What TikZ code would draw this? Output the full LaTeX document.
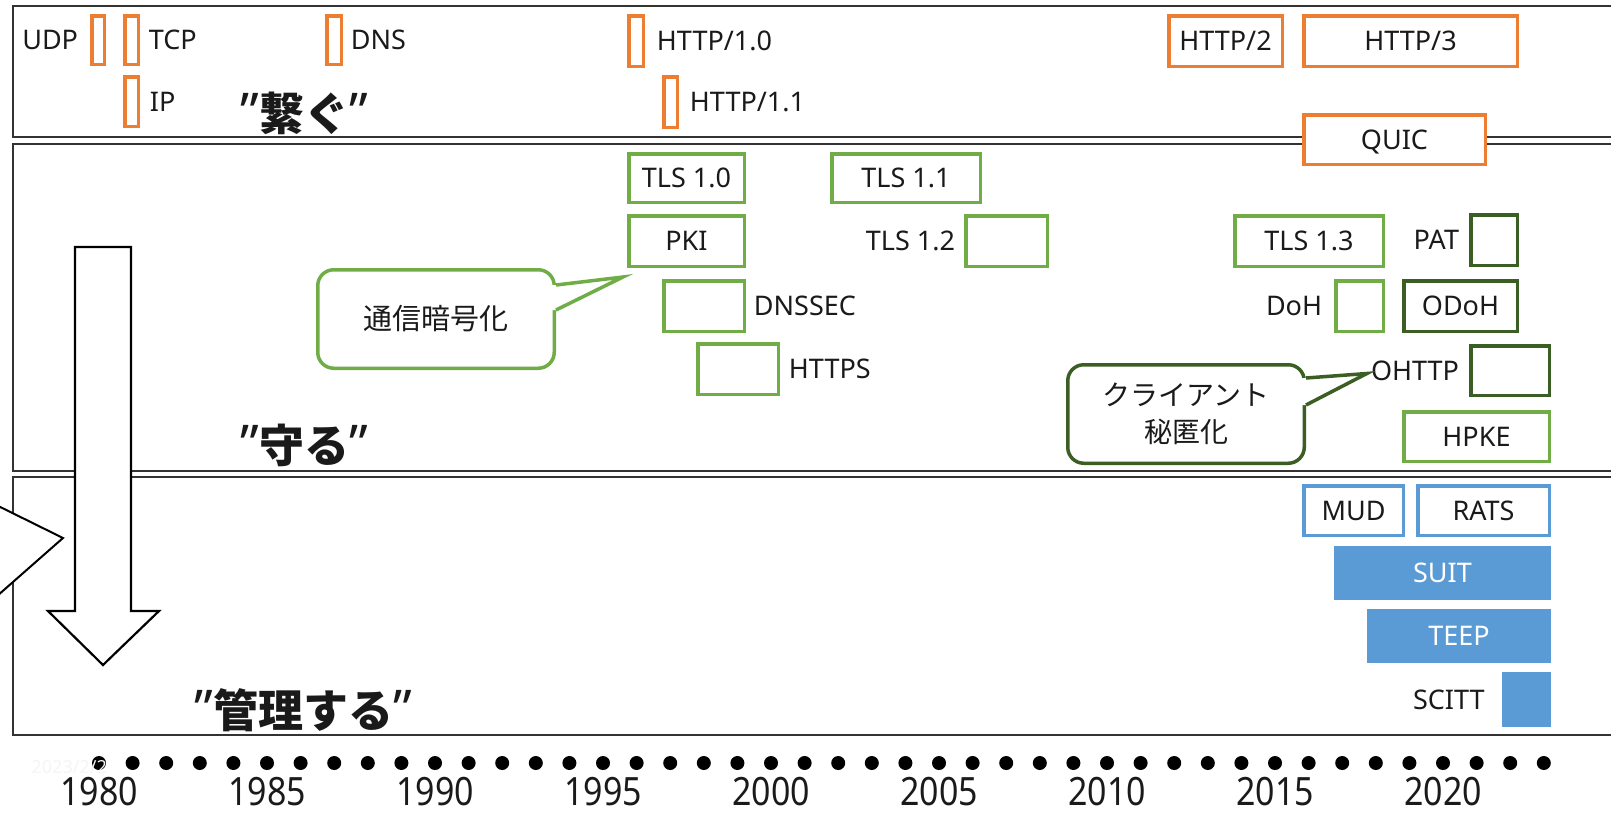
\documentclass[tikz,border=0pt]{standalone}
\usepackage{fontspec}
\setmainfont{Noto Sans}
\newfontfamily\jp{Noto Sans CJK JP}
\newfontfamily\yearfont{Noto Sans}[FakeStretch=0.87]
\usetikzlibrary{calc}
\definecolor{orng}{HTML}{ED7D31}
\definecolor{grn}{HTML}{70AD47}
\definecolor{dgrn}{HTML}{3B5E25}
\definecolor{blu}{HTML}{5B9BD5}
\definecolor{bandline}{HTML}{333333}
\definecolor{txt}{HTML}{1A1A1A}
\begin{document}
\begin{tikzpicture}[x=1pt,y=-1pt,
  lbl/.style={font=\fontsize{27}{30}\selectfont, inner sep=0pt, text=txt, text height=19.3pt, text depth=0pt},
  bx/.style={draw, line width=3.5pt, fill=white, inner sep=0pt, text=txt, font=\fontsize{27}{30}\selectfont, text height=19.3pt, text depth=0pt, minimum height=50.5pt},
  obx/.style={bx, draw=orng},
  gbx/.style={bx, draw=grn},
  dbx/.style={bx, draw=dgrn},
  bbx/.style={bx, draw=blu, minimum height=49.5pt},
  fbx/.style={fill=blu, draw=none, inner sep=0pt, text=white, font=\fontsize{27}{30}\selectfont, text height=19.3pt, text depth=0pt, minimum height=54pt},
  band/.style={draw=bandline, line width=2pt},
  bandlbl/.style={font=\fontsize{45}{50}\selectfont\bfseries, inner sep=0pt, text=txt},
  call/.style={draw, line width=3.5pt, fill=white, rounded corners=16pt, inner sep=0pt, text=txt},
  yearlbl/.style={font=\yearfont\fontsize{39}{40}\selectfont, inner sep=0pt, text=txt, anchor=base},
]
\useasboundingbox (0,0) rectangle (1611,815);
\fill[white] (0,0) rectangle (1611,815);

% bands
\draw[band] (1611,6) -- (13,6) -- (13,137) -- (1611,137);
\draw[band] (1611,144) -- (13,144) -- (13,471) -- (1611,471);
\draw[band] (1611,477) -- (13,477) -- (13,735) -- (1611,735);

% clipped chevron at left edge
\begin{scope}
\clip (0,0) rectangle (1611,815);
\fill[white] (-20,497) -- (63,538) -- (-20,611) -- cycle;
\draw[line width=2pt, line join=miter] (-20,497) -- (63,538) -- (-20,611);
\end{scope}

% big down arrow
\draw[line width=2.2pt, fill=white, line join=miter]
  (75,247) -- (131,247) -- (131,611) -- (159,611) -- (103,665) -- (48,611) -- (75,611) -- cycle;

% band labels
\node[bandlbl] (connect) at (304,113) {{\fontsize{52}{52}\selectfont ”}{\jp 繋ぐ}{\fontsize{52}{52}\selectfont ”}};
\node[bandlbl] (protect) at (304,445) {{\fontsize{52}{52}\selectfont ”}{\jp 守る}{\fontsize{52}{52}\selectfont ”}};
\node[bandlbl] (manage) at (303,710) {{\fontsize{52}{52}\selectfont ”}{\jp 管理する}{\fontsize{52}{52}\selectfont ”}};

% orange (connect)
\node[obx, minimum width=12.5pt, minimum height=48.5pt] (udp) at (98,40) {};
\node[obx, minimum width=13.5pt, minimum height=48.5pt] (tcp) at (131.5,40) {};
\node[obx, minimum width=13.5pt, minimum height=49.5pt] (ip) at (131.5,101.5) {};
\node[obx, minimum width=14.5pt, minimum height=48.5pt] (dns) at (334,40) {};
\node[obx, minimum width=14.5pt] (http10) at (636,41) {};
\node[obx, minimum width=13.5pt] (http11) at (670.5,102) {};
\node[obx, minimum width=113.5pt] (http2) at (1225.5,41) {HTTP/2};
\node[obx, minimum width=213.5pt] (http3) at (1410.5,41) {HTTP/3};
\node[obx, minimum width=181.5pt, minimum height=49.5pt] (quic) at (1394.5,139.5) {QUIC};

\node[lbl, anchor=east] (udpl) at ([xshift=-11.75pt]udp.west) {UDP};
\node[lbl, anchor=west] (tcpl) at ([xshift=8.75pt]tcp.east) {TCP};
\node[lbl, anchor=west] (ipl) at ([xshift=9.75pt]ip.east) {IP};
\node[lbl, anchor=west] (dnsl) at ([xshift=7.75pt]dns.east) {DNS};
\node[lbl, anchor=west] (http10l) at ([xshift=11.75pt]http10.east) {HTTP/1.0};
\node[lbl, anchor=west] (http11l) at ([xshift=10.75pt]http11.east) {HTTP/1.1};

% green (protect)
\node[gbx, minimum width=115.5pt, minimum height=48.5pt] (tls10) at (686.5,178) {TLS 1.0};
\node[gbx, minimum width=148.5pt, minimum height=48.5pt] (tls11) at (906,178) {TLS 1.1};
\node[gbx, minimum width=115.5pt] (pki) at (686.5,241) {PKI};
\node[gbx, minimum width=81.5pt] (tls12) at (1006.5,241) {};
\node[gbx, minimum width=80.5pt] (dnssec) at (704,306) {};
\node[gbx, minimum width=80.5pt] (https) at (738,369) {};
\node[gbx, minimum width=148.5pt] (tls13) at (1309,241) {TLS 1.3};
\node[gbx, minimum width=47.5pt] (doh) at (1359.5,306) {};
\node[gbx, minimum width=145.5pt, minimum height=49.5pt] (hpke) at (1476.5,436.5) {HPKE};
\node[dbx, minimum width=46.5pt] (pat) at (1494,240) {};
\node[dbx, minimum width=113.5pt] (odoh) at (1460.5,306) {ODoH};
\node[dbx, minimum width=78.5pt, minimum height=49.5pt] (ohttp) at (1510,370.5) {};

\node[lbl, anchor=east] (tls12l) at ([xshift=-8.75pt]tls12.west) {TLS 1.2};
\node[lbl, anchor=west] (dnssecl) at ([xshift=7.75pt]dnssec.east) {DNSSEC};
\node[lbl, anchor=west] (httpsl) at ([xshift=8.75pt]https.east) {HTTPS};
\node[lbl, anchor=east] (patl) at ([xshift=-9.75pt]pat.west) {PAT};
\node[lbl, anchor=east] (dohl) at ([xshift=-11.75pt]doh.west) {DoH};
\node[lbl, anchor=east] (ohttpl) at ([xshift=-9.75pt]ohttp.west) {OHTTP};

% blue (manage)
\node[bbx, minimum width=99.5pt] (mud) at (1353.5,510.5) {MUD};
\node[bbx, minimum width=131.5pt] (rats) at (1483.5,510.5) {RATS};
\node[fbx, minimum width=217pt] (suit) at (1442.5,573) {SUIT};
\node[fbx, minimum width=184pt] (teep) at (1459,636) {TEEP};
\node[fbx, minimum width=49pt, minimum height=55pt] (scitt) at (1526.5,699.5) {};
\node[lbl, anchor=east] (scittl) at ([xshift=-17pt]scitt.west) {SCITT};

% callout 1
\node[call, draw=grn, minimum width=236.5pt, minimum height=98.5pt, font=\jp\fontsize{29}{32}\selectfont] (c1) at (436,319) {通信暗号化};
\coordinate (c1a) at ($(c1.north east)+(0,17)$);
\coordinate (c1b) at ($(c1.north east)+(0,42)$);
\coordinate (c1t) at ($(pki.south west)+(-4,9)$);
\fill[white] ($(c1a)+(-5,0)$) -- (c1a) -- (c1t) -- (c1b) -- ($(c1b)+(-5,0)$) -- cycle;
\draw[grn, line width=3.5pt, line join=miter] (c1a) -- (c1t) -- (c1b);

% callout 2
\node[call, draw=dgrn, minimum width=236.5pt, minimum height=98.5pt, align=center, font=\jp\fontsize{28}{37}\selectfont] (c2) at (1186,414) {クライアント\\秘匿化};
\coordinate (c2a) at ($(c2.north east)+(0,15)$);
\coordinate (c2b) at ($(c2.north east)+(0,42)$);
\coordinate (c2t) at ($(ohttpl.west)+(-4,3)$);
\fill[white] ($(c2a)+(-5,0)$) -- (c2a) -- (c2t) -- (c2b) -- ($(c2b)+(-5,0)$) -- cycle;
\draw[dgrn, line width=3.5pt, line join=miter] (c2a) -- (c2t) -- (c2b);

% timeline
\foreach \i in {0,...,43} \fill[black] (99+33.6*\i,763) circle[radius=7pt];
\node[font=\fontsize{18}{18}\selectfont, text=black!4, anchor=east, inner sep=0pt] (stamp) at (107,767) {2023/2/2};
\foreach \yr [count=\k from 0] in {1980,1985,...,2020}
  \node[yearlbl] (y\yr) at (99+168*\k,805) {\yr};
\end{tikzpicture}
\end{document}
